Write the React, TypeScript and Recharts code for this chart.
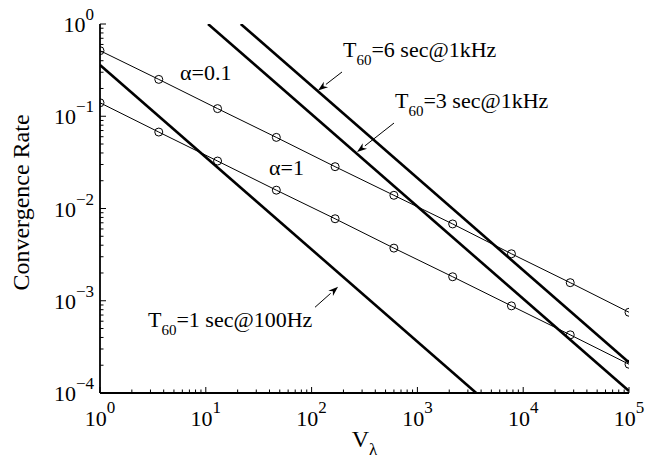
import React from 'react';
import { LineChart, Line, XAxis, YAxis, ReferenceDot, ReferenceLine, Label } from 'recharts';

const FONT = '"Liberation Serif", "Times New Roman", serif';

// V_lambda sample points (logspace 1..1e5, 10 points)
const vLambda = [1, 3.594, 12.92, 46.42, 166.8, 599.5, 2154, 7743, 27826, 100000];
const alpha01 = [0.514, 0.251, 0.121, 0.059, 0.0284, 0.0139, 0.0068, 0.00323, 0.00157, 0.00075];
const alpha1 = [0.14, 0.0674, 0.0327, 0.0158, 0.00774, 0.00372, 0.00182, 0.00088, 0.000427, 0.000205];

// bound lines (end points where they leave the axes)
const t60_100Hz = [{ x: 1, y: 0.36 }, { x: 3600, y: 0.0001 }];
const t60_3s = [{ x: 10.5, y: 1 }, { x: 100000, y: 0.000105 }];
const t60_6s = [{ x: 21.4, y: 1 }, { x: 100000, y: 0.000214 }];

const xTicks = [0, 1, 2, 3, 4].flatMap((d) => [1, 2, 3, 4, 5, 6, 7, 8, 9].map((k) => k * 10 ** d)).concat([100000]);
const yTicks = [-4, -3, -2, -1].flatMap((d) => [1, 2, 3, 4, 5, 6, 7, 8, 9].map((k) => k * 10 ** d)).concat([1]);

const labels = [
  { x: 198, y: 0.439, main: 'T', sub: '60', rest: '=6 sec@1kHz' },
  { x: 614, y: 0.1227, main: 'T', sub: '60', rest: '=3 sec@1kHz' },
  { x: 2.84, y: 0.000517, main: 'T', sub: '60', rest: '=1 sec@100Hz' },
  { x: 5.7, y: 0.247, main: '\u03b1=0.1', sub: '', rest: '' },
  { x: 39.6, y: 0.023, main: '\u03b1=1', sub: '', rest: '' },
];

const arrows = [
  { from: { x: 193.8, y: 0.302 }, to: { x: 115, y: 0.19 } },
  { from: { x: 601, y: 0.0844 }, to: { x: 268.7, y: 0.0409 } },
  { from: { x: 107.7, y: 0.00085 }, to: { x: 178, y: 0.00142 } },
];

const toSeries = (ys: number[]) => vLambda.map((x, i) => ({ x, y: ys[i] }));

const exponent = (v: number) => {
  const e = Math.round(Math.log10(v));
  return e < 0 ? '\u2212' + Math.abs(e) : String(e);
};
const isDecade = (v: number) => Math.abs(Math.log10(v) - Math.round(Math.log10(v))) < 1e-9;

const BottomTick = ({ x, y, payload }: any) => {
  const major = isDecade(payload.value);
  return (
    <g>
      <line x1={x} x2={x} y1={y} y2={y - (major ? 6 : 3.5)} stroke="#000" />
      {major && (
        <text x={x} y={y + 33} textAnchor="middle" fontSize={22} fontFamily={FONT} fill="#000">
          10<tspan dy={-13} fontSize={17}>{exponent(payload.value)}</tspan>
        </text>
      )}
    </g>
  );
};

const TopTick = ({ x, y, payload }: any) => {
  const major = isDecade(payload.value);
  return <line x1={x} x2={x} y1={y} y2={y + (major ? 6 : 3.5)} stroke="#000" />;
};

const LeftTick = ({ x, y, payload }: any) => {
  const major = isDecade(payload.value);
  return (
    <g>
      <line x1={x} x2={x + (major ? 6 : 3.5)} y1={y} y2={y} stroke="#000" />
      {major && (
        <text x={x - 6} y={y + 8} textAnchor="end" fontSize={22} fontFamily={FONT} fill="#000">
          10<tspan dy={-12} fontSize={17}>{exponent(payload.value)}</tspan>
        </text>
      )}
    </g>
  );
};

const RightTick = ({ x, y, payload }: any) => {
  const major = isDecade(payload.value);
  return <line x1={x} x2={x - (major ? 6 : 3.5)} y1={y} y2={y} stroke="#000" />;
};

const Arrow = (p: any) => {
  const { x1, y1, x2, y2 } = p;
  const a = Math.atan2(y2 - y1, x2 - x1);
  const len = 10;
  const w = 3.5;
  const bx = x2 - len * Math.cos(a);
  const by = y2 - len * Math.sin(a);
  const nx = -Math.sin(a) * w;
  const ny = Math.cos(a) * w;
  return (
    <g>
      <line x1={x1} y1={y1} x2={bx} y2={by} stroke="#000" strokeWidth={1} />
      <polygon
        points={`${x2},${y2} ${bx + nx},${by + ny} ${x2 - 0.7 * len * Math.cos(a)},${y2 - 0.7 * len * Math.sin(a)} ${bx - nx},${by - ny}`}
        fill="#000"
      />
    </g>
  );
};

const makeText = (l: typeof labels[number]) => (p: any) => (
  <text x={p.cx} y={p.cy} fontSize={22} fontFamily={FONT} fill="#000">
    {l.main}
    {l.sub && <tspan dy={8} fontSize={15}>{l.sub}</tspan>}
    {l.rest && <tspan dy={l.sub ? -8 : 0}>{l.rest}</tspan>}
  </text>
);

export default function App() {
  return (
    <div style={{ position: 'absolute', left: 0, top: 0, background: '#fff' }}>
      <LineChart width={648} height={463} margin={{ top: 24, right: 19, bottom: 0, left: 0 }}>
        <XAxis
          dataKey="x"
          type="number"
          scale="log"
          domain={[1, 100000]}
          allowDataOverflow
          ticks={xTicks}
          interval={0}
          tickSize={0}
          tickMargin={0}
          tick={<BottomTick />}
          height={70}
          axisLine={{ stroke: '#000', strokeWidth: 1.8 }}
        >
          <Label
            content={({ viewBox }: any) => (
              <text x={viewBox.x + viewBox.width / 2} y={viewBox.y + 54} textAnchor="middle" fontSize={24} fontFamily={FONT} fill="#000">
                V<tspan dy={8} fontSize={17}>{'\u03bb'}</tspan>
              </text>
            )}
          />
        </XAxis>
        <XAxis
          xAxisId="top"
          orientation="top"
          dataKey="x"
          type="number"
          scale="log"
          domain={[1, 100000]}
          allowDataOverflow
          ticks={xTicks}
          interval={0}
          tickSize={0}
          tickMargin={0}
          tick={<TopTick />}
          height={0}
          axisLine={{ stroke: '#000', strokeWidth: 1.4 }}
        />
        <YAxis
          dataKey="y"
          type="number"
          scale="log"
          domain={[0.0001, 1]}
          allowDataOverflow
          ticks={yTicks}
          interval={0}
          tickSize={0}
          tickMargin={0}
          tick={<LeftTick />}
          width={100}
          axisLine={{ stroke: '#000', strokeWidth: 1.8 }}
        >
          <Label
            content={({ viewBox }: any) => {
              const cx = 28.5;
              const cy = viewBox.y + viewBox.height / 2 - 6;
              return (
                <text x={cx} y={cy} transform={`rotate(-90, ${cx}, ${cy})`} textAnchor="middle" fontSize={24} fontFamily={FONT} fill="#000">
                  Convergence Rate
                </text>
              );
            }}
          />
        </YAxis>
        <YAxis
          yAxisId="right"
          orientation="right"
          dataKey="y"
          type="number"
          scale="log"
          domain={[0.0001, 1]}
          allowDataOverflow
          ticks={yTicks}
          interval={0}
          tickSize={0}
          tickMargin={0}
          tick={<RightTick />}
          width={0}
          axisLine={{ stroke: '#000', strokeWidth: 1.4 }}
        />

        <Line data={t60_100Hz} dataKey="y" stroke="#000" strokeWidth={2.6} dot={false} isAnimationActive={false} />
        <Line data={t60_3s} dataKey="y" stroke="#000" strokeWidth={2.6} dot={false} isAnimationActive={false} />
        <Line data={t60_6s} dataKey="y" stroke="#000" strokeWidth={2.6} dot={false} isAnimationActive={false} />
        <Line
          data={toSeries(alpha01)}
          dataKey="y"
          stroke="#000"
          strokeWidth={1}
          dot={{ r: 4, fill: 'none', stroke: '#000', strokeWidth: 1 }}
          isAnimationActive={false}
        />
        <Line
          data={toSeries(alpha1)}
          dataKey="y"
          stroke="#000"
          strokeWidth={1}
          dot={{ r: 4, fill: 'none', stroke: '#000', strokeWidth: 1 }}
          isAnimationActive={false}
        />

        {arrows.map((a, i) => (
          <ReferenceLine key={'a' + i} segment={[a.from, a.to]} shape={<Arrow />} ifOverflow="visible" />
        ))}
        {labels.map((l, i) => (
          <ReferenceDot key={'l' + i} x={l.x} y={l.y} r={0} shape={makeText(l)} ifOverflow="visible" />
        ))}
      </LineChart>
    </div>
  );
}
